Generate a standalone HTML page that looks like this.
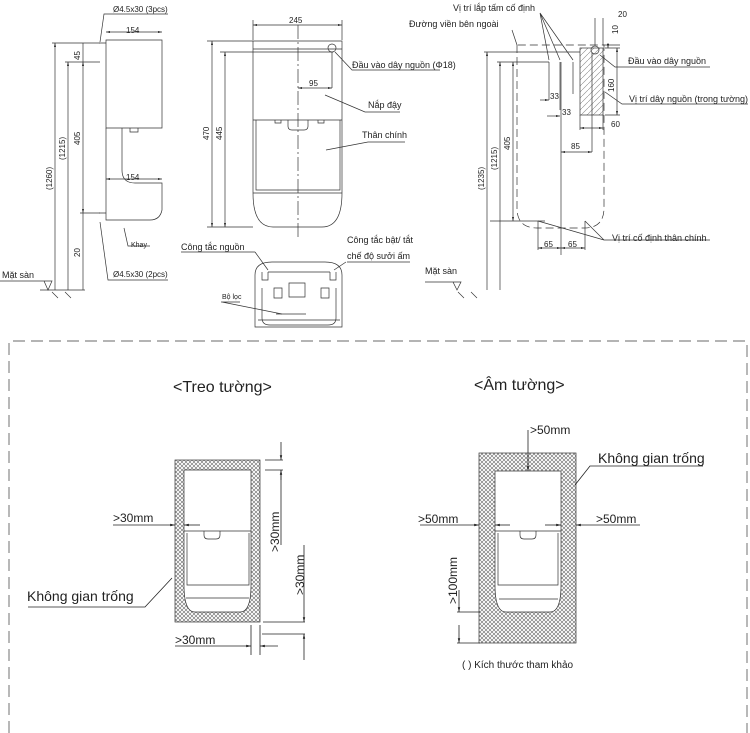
<!DOCTYPE html>
<html><head><meta charset="utf-8"><style>
html,body{margin:0;padding:0;background:#fff;}
svg{display:block;font-family:"Liberation Sans",Arial,sans-serif;}
</style></head><body>
<svg width="750" height="733" viewBox="0 0 750 733" xmlns="http://www.w3.org/2000/svg">
<defs>
<pattern id="x" width="4" height="4" patternUnits="userSpaceOnUse">
<rect width="4" height="4" fill="#fff"/>
<path d="M0 0L4 4M4 0L0 4" stroke="#666" stroke-width="0.6"/>
</pattern>
<pattern id="h" width="6" height="6" patternUnits="userSpaceOnUse">
<path d="M0 6L6 0" stroke="#888" stroke-width="0.6"/>
</pattern>
<marker id="a" markerWidth="6" markerHeight="6" refX="6" refY="3" orient="auto"><path d="M0 1.5L6 3L0 4.5z" fill="#222"/></marker>
<marker id="b" markerWidth="6" markerHeight="6" refX="0" refY="3" orient="auto"><path d="M6 1.5L0 3L6 4.5z" fill="#222"/></marker>
</defs>
<g stroke="#333" stroke-width="0.7" fill="none">
<!-- Left side view -->
<path d="M106 40H162V128H106Z"/>
<path d="M122 128V170Q122 183 135 183H162V210Q160 220 150 220H106V183"/>
<path d="M106 128V183M130 128v4h8v-4"/>
<path d="M99 43H106M99 213H106"/>
<line x1="106" y1="32" x2="162" y2="32" marker-start="url(#b)" marker-end="url(#a)"/>
<line x1="106" y1="179" x2="162" y2="179" marker-start="url(#b)" marker-end="url(#a)"/>
<path d="M52 43H100M65 62H100M80 213H100M40 290H85"/>
<line x1="55" y1="43" x2="55" y2="290" marker-start="url(#b)"/>
<line x1="68" y1="62" x2="68" y2="290" marker-start="url(#b)"/>
<line x1="83" y1="62" x2="83" y2="213" marker-start="url(#b)" marker-end="url(#a)"/>
<line x1="83" y1="43" x2="83" y2="62"/><line x1="83" y1="213" x2="83" y2="290"/>
<path d="M100 42L104 14H168M100 222L108 280H168M124 228L128 246H150"/>
<path d="M0 281H52L48 290L44 281M52 292L58 298M65 292L71 298"/>
<!-- Front view -->
<path d="M253 41H342V193Q342 227 322 227H273Q253 227 253 193Z"/>
<path d="M253 120H342M256 120V190H340V120M253 193H342M253 49H342"/>
<circle cx="332" cy="48" r="4"/>
<line x1="298" y1="25" x2="298" y2="238" stroke-dasharray="14 3 2 3"/>
<line x1="253" y1="25" x2="342" y2="25" marker-start="url(#b)" marker-end="url(#a)"/>
<path d="M253 20V40M342 20V40M207 41H253M220 52H333M207 227H253"/>
<line x1="212" y1="41" x2="212" y2="227" marker-start="url(#b)" marker-end="url(#a)"/>
<line x1="225" y1="52" x2="225" y2="227" marker-start="url(#b)" marker-end="url(#a)"/>
<line x1="298" y1="88" x2="332" y2="88" marker-start="url(#b)" marker-end="url(#a)"/>
<path d="M332 52V88M335 52L352 70H440M325 95L365 112H400M326 150L368 142H405"/>
<path d="M288 120v6q0 4 4 4h12q4 0 4-4v-6M275 120v3h6v-3M318 120v3h6v-3"/>
<!-- bottom view -->
<path d="M255 327V275Q255 262 272 262H325Q342 262 342 275V327Z"/>
<path d="M262 288V318Q262 325 270 325H328Q336 325 336 318V288M268 272H330M289 283h16v14h-16zM262 272v8h6v-8M330 272v8h6v-8M274 288h8v10h-8zM321 288h8v10h-8zM276 314h30M258 320H340"/>
<path d="M255 252L268 270M346 262L334 270M222 302L282 314M181 252H255M347 262H410M221 302H240"/>
<!-- Right view -->
<path d="M517 45V208Q517 228 537 228H584Q604 228 604 208V45H517" stroke-dasharray="8 4"/>
<line x1="561" y1="62" x2="561" y2="255"/>
<rect x="580" y="48" width="23" height="67" fill="url(#h)"/>
<circle cx="595" cy="50" r="4"/>
<path d="M549 62V100M560 62V110M573 62V94M484 52H580M497 62H549M490 221H545"/>
<line x1="487" y1="52" x2="487" y2="290" marker-start="url(#b)"/>
<line x1="500" y1="62" x2="500" y2="290" marker-start="url(#b)"/>
<line x1="513" y1="62" x2="513" y2="221" marker-start="url(#b)" marker-end="url(#a)"/>
<line x1="540" y1="100" x2="549" y2="100" marker-end="url(#a)"/>
<line x1="547" y1="116" x2="560" y2="116" marker-end="url(#a)"/>
<line x1="580" y1="128" x2="603" y2="128" marker-start="url(#b)" marker-end="url(#a)"/>
<line x1="561" y1="152" x2="592" y2="152" marker-start="url(#b)" marker-end="url(#a)"/>
<line x1="538" y1="248" x2="561" y2="248" marker-start="url(#b)" marker-end="url(#a)"/>
<line x1="561" y1="248" x2="585" y2="248" marker-start="url(#b)" marker-end="url(#a)"/>
<path d="M538 221V250M585 221V250M592 52V152M580 115V130M603 115V130"/>
<line x1="617" y1="48" x2="617" y2="115" marker-start="url(#b)" marker-end="url(#a)"/>
<path d="M605 48H620M605 115H620M595 18V45M603 18V45M603 45H620"/>
<line x1="608" y1="43" x2="608" y2="48" marker-end="url(#a)"/>
<path d="M540 13L549 60M540 13L560 60M540 13L573 60M512 30L517 45M600 55L615 67H710M605 92L622 104H748M538 221L604 240H710M585 221L604 240"/>
<path d="M425 282H461L457 290L453 282M458 292L464 298M471 292L477 298"/>
<!-- dashed frame -->
<path d="M9 733V341H747V733" stroke="#888" stroke-width="1.2" stroke-dasharray="12 6"/>
</g>
<!-- Lower installation -->
<g stroke="#333" stroke-width="0.7">
<rect x="175" y="460" width="85" height="162" fill="url(#x)"/>
<path d="M184 470H251V585Q251 612 240 612H195Q184 612 184 585Z" fill="#fff"/>
<path d="M184 531H251M187 533V585H249V533M186 598H249M204 531v4q0 4 4 4h8q4 0 4-4v-4" fill="none"/>
<rect x="479" y="453" width="97" height="190" fill="url(#x)"/>
<path d="M495 471H561V585Q561 612 550 612H506Q495 612 495 585Z" fill="#fff"/>
<path d="M495 531H561M498 533V585H558V533M499 599H558M520 531v4q0 4 4 4h8q4 0 4-4v-4" fill="none"/>
</g>
<g stroke="#222" stroke-width="0.8" fill="none">
<path d="M265 460H283M265 470H283M263 622H305M262 634H305M251 625V655M260 625V655"/>
<line x1="281" y1="442" x2="281" y2="460" marker-end="url(#a)"/>
<line x1="281" y1="480" x2="281" y2="470" marker-end="url(#a)"/>
<line x1="281" y1="470" x2="281" y2="545"/>
<line x1="304" y1="612" x2="304" y2="622" marker-end="url(#a)"/>
<line x1="304" y1="660" x2="304" y2="634" marker-end="url(#a)"/>
<line x1="304" y1="545" x2="304" y2="612"/>
<line x1="113" y1="525" x2="175" y2="525" marker-end="url(#a)"/>
<line x1="200" y1="525" x2="184" y2="525" marker-end="url(#a)"/>
<line x1="175" y1="646" x2="251" y2="646" marker-end="url(#a)"/>
<line x1="278" y1="646" x2="260" y2="646" marker-end="url(#a)"/>
<path d="M28 607H145L172 578"/>
<line x1="528" y1="430" x2="528" y2="471" marker-end="url(#a)"/>
<line x1="420" y1="525" x2="479" y2="525" marker-end="url(#a)"/>
<line x1="510" y1="525" x2="495" y2="525" marker-end="url(#a)"/>
<line x1="545" y1="525" x2="561" y2="525" marker-end="url(#a)"/>
<line x1="640" y1="525" x2="576" y2="525" marker-end="url(#a)"/>
<path d="M457 612H480M457 643H480M703 466H590L575 485"/>
<line x1="459" y1="590" x2="459" y2="612" marker-end="url(#a)"/>
<line x1="459" y1="625" x2="459" y2="643" marker-end="url(#a)"/>
</g>
<g fill="#222" font-size="10">
<text x="113" y="12" font-size="8">Ø4.5x30 (3pcs)</text>
<text x="126" y="33" font-size="8">154</text>
<text x="126" y="180" font-size="8">154</text>
<text x="131" y="247" font-size="7">Khay</text>
<text x="113" y="277" font-size="8">Ø4.5x30 (2pcs)</text>
<text x="2" y="278" font-size="9">Mặt sàn</text>
<text transform="translate(52,190) rotate(-90)" font-size="8">(1260)</text>
<text transform="translate(65,160) rotate(-90)" font-size="8">(1215)</text>
<text transform="translate(80,145) rotate(-90)" font-size="8">405</text>
<text transform="translate(80,60) rotate(-90)" font-size="8">45</text>
<text transform="translate(80,257) rotate(-90)" font-size="8">20</text>
<text x="289" y="23" font-size="8">245</text>
<text transform="translate(209,140) rotate(-90)" font-size="8">470</text>
<text transform="translate(222,140) rotate(-90)" font-size="8">445</text>
<text x="309" y="86" font-size="8">95</text>
<text x="352" y="68" font-size="9">Đầu vào dây nguồn (Φ18)</text>
<text x="368" y="108" font-size="9">Nắp đậy</text>
<text x="362" y="138" font-size="9">Thân chính</text>
<text x="181" y="250" font-size="9">Công tắc nguồn</text>
<text x="347" y="243" font-size="9">Công tắc bật/ tắt</text>
<text x="347" y="259" font-size="9">chế độ sưởi ấm</text>
<text x="222" y="299" font-size="7">Bộ lọc</text>
<text x="453" y="11" font-size="9">Vị trí lắp tấm cố định</text>
<text x="409" y="27" font-size="9">Đường viền bên ngoài</text>
<text x="618" y="17" font-size="8">20</text>
<text transform="translate(618,34) rotate(-90)" font-size="8">10</text>
<text x="628" y="64" font-size="9">Đầu vào dây nguồn</text>
<text transform="translate(614,92) rotate(-90)" font-size="8">160</text>
<text x="629" y="102" font-size="9">Vị trí dây nguồn (trong tường)</text>
<text x="550" y="99" font-size="8">33</text>
<text x="562" y="115" font-size="8">33</text>
<text x="611" y="127" font-size="8">60</text>
<text x="571" y="149" font-size="8">85</text>
<text x="544" y="247" font-size="8">65</text>
<text x="568" y="247" font-size="8">65</text>
<text x="612" y="241" font-size="9">Vị trí cố định thân chính</text>
<text x="425" y="274" font-size="9">Mặt sàn</text>
<text transform="translate(484,190) rotate(-90)" font-size="8">(1235)</text>
<text transform="translate(497,170) rotate(-90)" font-size="8">(1215)</text>
<text transform="translate(510,150) rotate(-90)" font-size="8">405</text>
<text x="173" y="392" font-size="16">&lt;Treo tường&gt;</text>
<text x="474" y="390" font-size="16">&lt;Âm tường&gt;</text>
<text x="113" y="522" font-size="12">&gt;30mm</text>
<text transform="translate(279,552) rotate(-90)" font-size="12">&gt;30mm</text>
<text transform="translate(304,595) rotate(-90)" font-size="12">&gt;30mm</text>
<text x="175" y="644" font-size="12">&gt;30mm</text>
<text x="27" y="601" font-size="14">Không gian trống</text>
<text x="530" y="434" font-size="12">&gt;50mm</text>
<text x="598" y="463" font-size="14">Không gian trống</text>
<text x="418" y="523" font-size="12">&gt;50mm</text>
<text x="596" y="523" font-size="12">&gt;50mm</text>
<text transform="translate(457,604) rotate(-90)" font-size="12">&gt;100mm</text>
<text x="462" y="668" font-size="10">( ) Kích thước tham khảo</text>
</g>
</svg>
</body></html>
